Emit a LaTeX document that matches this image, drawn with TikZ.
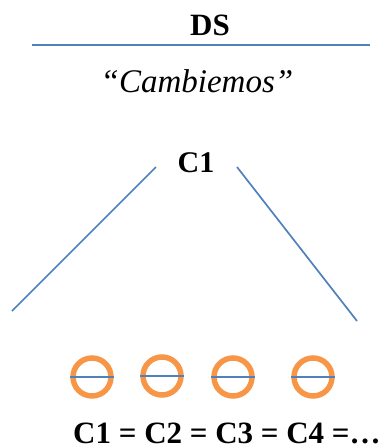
\documentclass[tikz,border=0pt]{standalone}
\usepackage{fontspec}
\setmainfont{Liberation Serif}
\definecolor{lblue}{HTML}{4F81BD}
\definecolor{ringor}{HTML}{F79646}
\begin{document}
\begin{tikzpicture}[x=1pt,y=-1pt,
  ln/.style={draw=lblue,line width=1.7pt},
  ring/.style={circle,draw=ringor,line width=5.5pt,minimum size=38pt,inner sep=0pt},
  bigb/.style={font=\fontsize{31}{36}\selectfont\bfseries,anchor=base,inner sep=0pt},
  ital/.style={font=\fontsize{33}{38}\selectfont\itshape,anchor=base,inner sep=0pt}]
\useasboundingbox (0,0) rectangle (386,448);
\node[bigb] (ds) at (210,35) {DS};
\coordinate (hl) at (32,45);
\coordinate (hr) at (370,45);
\draw[ln] (hl) -- (hr);
\node[ital] (camb) at (197,92) {“Cambiemos”};
\node[bigb,font=\fontsize{30}{36}\selectfont\bfseries] (c1) at (196,172) {C1};
\coordinate (la) at (156,167);
\coordinate (lb) at (12,311);
\coordinate (ra) at (237,167);
\coordinate (rb) at (357,321);
\draw[ln] (la) -- (lb);
\draw[ln] (ra) -- (rb);
\foreach \i/\x/\y in {1/92/377,2/162/376,3/233/377,4/313/377}{
  \node[ring] (r\i) at (\x,\y) {};
  \draw[ln] (r\i.west) -- (r\i.east);
}
\node[bigb,anchor=base west] (eq) at (73,443) {C1 = C2 = C3 = C4 =…};
\end{tikzpicture}
\end{document}
